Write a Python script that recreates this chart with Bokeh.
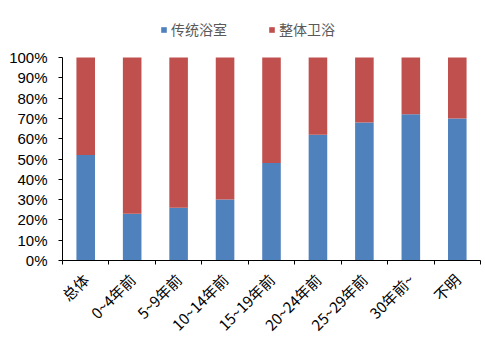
from bokeh.plotting import figure
from bokeh.models import FixedTicker, NumeralTickFormatter, ColumnDataSource, Legend, LegendItem, Range1d
from bokeh.embed import file_html
from bokeh.resources import INLINE
import math

categories = ["总体", "0~4年前", "5~9年前", "10~14年前", "15~19年前", "20~24年前", "25~29年前", "30年前~", "不明"]
traditional = [0.52, 0.23, 0.26, 0.30, 0.48, 0.62, 0.68, 0.72, 0.70]
integrated = [round(1 - v, 2) for v in traditional]
series_names = ["传统浴室", "整体卫浴"]
colors = ["#4F81BD", "#C0504D"]
y_ticks = [i / 10 for i in range(11)]

xs = [i + 0.5 for i in range(len(categories))]
src = ColumnDataSource(dict(x=xs, a=traditional, b=integrated))

# frame spans y=10..260 px; 100% sits at y=57 px
p = figure(width=485, height=352, output_backend="svg", toolbar_location=None,
           x_range=Range1d(0, len(categories)), y_range=Range1d(0, 250 / 203),
           min_border_left=62, min_border_right=5, min_border_top=10, min_border_bottom=92)
p.outline_line_color = None
p.xgrid.grid_line_color = None
p.ygrid.grid_line_color = None

r = p.vbar_stack(["a", "b"], x="x", width=0.4, color=colors, source=src, line_color=None)

# y axis
p.yaxis.bounds = (0, 1)
p.yaxis.ticker = FixedTicker(ticks=y_ticks)
p.yaxis.formatter = NumeralTickFormatter(format="0%")
p.yaxis.major_tick_in = 0
p.yaxis.major_tick_out = 4
p.yaxis.minor_tick_line_color = None
p.yaxis.major_label_text_font = "Liberation Sans"
p.yaxis.major_label_text_font_size = "15px"
p.yaxis.major_label_text_color = "#000000"
p.yaxis.major_label_standoff = 11
p.yaxis.axis_line_color = "#000000"

# x axis
p.xaxis.ticker = FixedTicker(ticks=xs, minor_ticks=list(range(len(categories) + 1)))
p.xaxis.major_label_overrides = {x: c for x, c in zip(xs, categories)}
p.xaxis.major_tick_line_color = None
p.xaxis.minor_tick_in = 0
p.xaxis.minor_tick_out = 4
p.xaxis.minor_tick_line_color = "#000000"
p.xaxis.major_label_orientation = math.pi / 4
p.xaxis.major_label_text_font = "Noto Sans CJK SC"
p.xaxis.major_label_text_font_size = "15px"
p.xaxis.major_label_text_color = "#000000"
p.xaxis.major_label_standoff = 10
p.xaxis.axis_line_color = "#000000"

legend = Legend(items=[LegendItem(label=series_names[i], renderers=[r[i]]) for i in range(2)],
                orientation="horizontal", location=(98, 221),
                border_line_color=None, background_fill_alpha=0,
                label_text_font="Noto Sans CJK SC", label_text_font_size="14px",
                label_text_color="#595959", glyph_width=7, glyph_height=7,
                label_standoff=4, spacing=41, padding=0, margin=0)
p.add_layout(legend, "center")

open("out.html", "w").write(file_html(p, INLINE))
